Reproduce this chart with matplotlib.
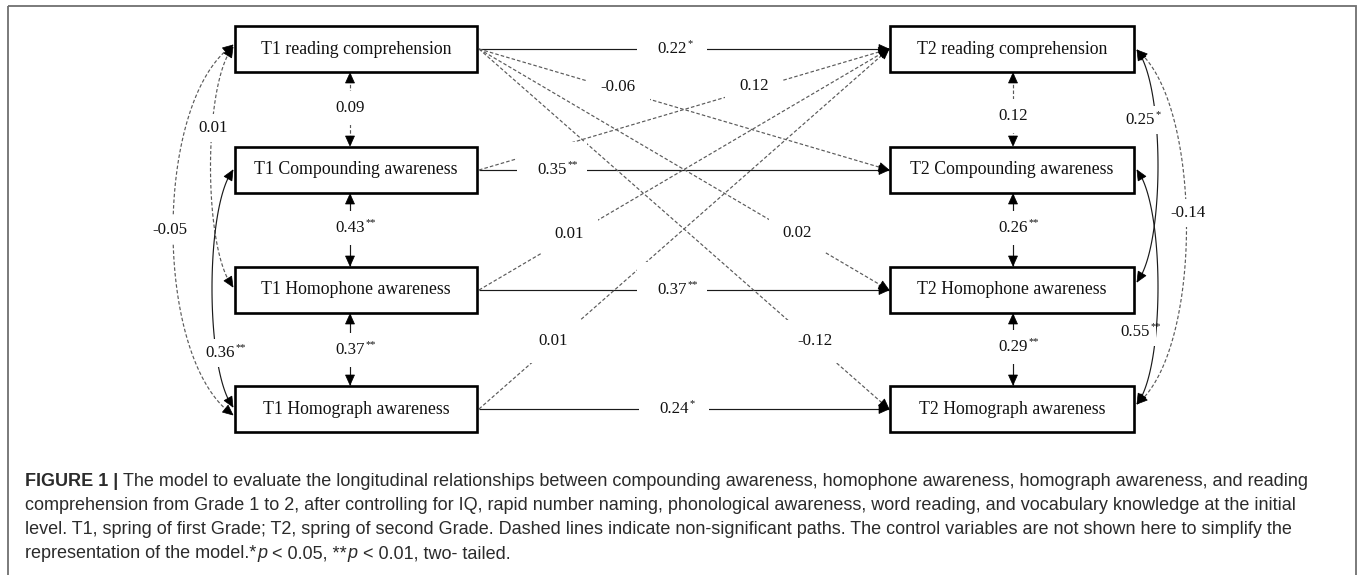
import numpy as np
import matplotlib.pyplot as plt
from matplotlib.patches import Rectangle, Polygon

# ---- model values ----
t1_names = ["T1 reading comprehension", "T1 Compounding awareness",
            "T1 Homophone awareness", "T1 Homograph awareness"]
t2_names = ["T2 reading comprehension", "T2 Compounding awareness",
            "T2 Homophone awareness", "T2 Homograph awareness"]

# autoregressive paths T1 -> T2 (same construct)
auto_coef = ["0.22*", "0.35**", "0.37**", "0.24*"]

# cross-lagged paths T1 -> T2
cross_src = [0, 0, 0, 1, 2, 3]
cross_dst = [1, 2, 3, 0, 0, 0]
cross_coef = ["-0.06", "0.02", "-0.12", "0.12", "0.01", "0.01"]

# correlations between neighbouring measures
t1_adj_coef = ["0.09", "0.43**", "0.37**"]
t2_adj_coef = ["0.12", "0.26**", "0.29**"]

# correlations between non-neighbouring measures
t1_far_pairs = [(0, 2), (0, 3), (1, 3)]
t1_far_coef = ["0.01", "-0.05", "0.36**"]
t2_far_pairs = [(0, 2), (1, 3), (0, 3)]
t2_far_coef = ["0.25*", "0.55**", "-0.14"]

caption = [
    [("FIGURE 1 |", "bold"), ("The model to evaluate the longitudinal relationships between compounding "
                              "awareness, homophone awareness, homograph awareness, and reading", "normal")],
    [("comprehension from Grade 1 to 2, after controlling for IQ, rapid number naming, phonological "
      "awareness, word reading, and vocabulary knowledge at the initial", "normal")],
    [("level. T1, spring of first Grade; T2, spring of second Grade. Dashed lines indicate non-significant "
      "paths. The control variables are not shown here to simplify the", "normal")],
    [("representation of the model.*", "normal"), ("p", "italic"), ("< 0.05, **", "normal"),
     ("p", "italic"), ("< 0.01, two- tailed.", "normal")],
]

# ---- layout (pixels) ----
W, H = 1360, 575
BOX_Y = [49, 170, 290, 409]
BOX_H = 46
L_X0, L_X1 = 235, 477
R_X0, R_X1 = 890, 1134
auto_lab_x = [672, 552, 672, 674]
cross_lab_t = [0.34, 0.775, 0.82, 0.67, 0.22, 0.18]
t1_adj_x, t2_adj_x = 350, 1013
t1_adj_lab_y = [108, 228, 350]
t2_adj_lab_y = [116, 228, 347]
t1_far_ends = [(47, 287), (45, 415), (170, 407)]
t1_far_d = [30, 80, 28]
t1_far_lab = [(213, 128), (170, 230), (220, 353)]
t2_far_ends = [(50, 282), (170, 404), (50, 404)]
t2_far_d = [28, 28, 66]
t2_far_lab = [(1140, 120), (1135, 332), (1188, 213)]

SOLID_C = "#1a1a1a"
DASH_C = "#5a5a5a"
SERIF = "Liberation Serif"

fig = plt.figure(figsize=(W / 100, H / 100), dpi=100)
ax = fig.add_axes([0, 0, 1, 1])
ax.set_xlim(0, W)
ax.set_ylim(H, 0)
ax.axis("off")


def is_sig(c):
    return c.endswith("*")


def head(p_from, p_tip, L=10, w=4.5):
    p_from, p_tip = np.asarray(p_from, float), np.asarray(p_tip, float)
    u = p_tip - p_from
    u /= np.hypot(*u)
    n = np.array([-u[1], u[0]])
    base = p_tip - u * L
    ax.add_patch(Polygon([p_tip, base + n * w, base - n * w], closed=True,
                         fc="black", ec="black", lw=0.5, zorder=3))


def back_point(pts, dist=10):
    tip = pts[-1]
    d = np.hypot(*(pts - tip).T)
    idx = np.where(d >= dist)[0]
    return pts[idx[-1]] if len(idx) else pts[0]


def path_line(pts, dashed, start_head=False, end_head=True):
    pts = np.asarray(pts, float)
    ls = (0, (3.0, 1.8)) if dashed else "-"
    ax.plot(pts[:, 0], pts[:, 1], color=DASH_C if dashed else SOLID_C,
            lw=0.85, ls=ls, zorder=2, solid_capstyle="butt")
    if end_head:
        head(back_point(pts), pts[-1])
    if start_head:
        head(back_point(pts[::-1]), pts[0])


def label(x, y, c, pad=0.6):
    base = c.rstrip("*")
    stars = c[len(base):]
    t = ax.text(x, y, base, ha="center", va="center", fontsize=12.2, family=SERIF,
                color="#111111", zorder=5,
                bbox=dict(fc="white", ec="none", boxstyle=f"square,pad={pad}"))
    if stars:
        ax.annotate(stars, xy=(1, 1), xycoords=t, xytext=(0.3, 1.2),
                    textcoords="offset points", ha="left", va="top",
                    fontsize=7.5, family=SERIF, color="#111111", zorder=6)


def arc(x, y0, y1, d, side):
    t = np.linspace(0, 1, 80)[:, None]
    k = 0.15 * (y1 - y0)
    p0 = np.array([x, y0])
    p1 = np.array([x + side * d, y0 + k])
    p2 = np.array([x + side * d, y1 - k])
    p3 = np.array([x, y1])
    return ((1 - t) ** 3) * p0 + 3 * ((1 - t) ** 2) * t * p1 + 3 * (1 - t) * t ** 2 * p2 + t ** 3 * p3


# outer frame
ax.add_patch(Rectangle((8, 6), 1348, 600, fc="none", ec="#6f6f6f", lw=1.3, zorder=1))

# boxes
for names, x0, x1 in [(t1_names, L_X0, L_X1), (t2_names, R_X0, R_X1)]:
    for name, y in zip(names, BOX_Y):
        ax.add_patch(Rectangle((x0, y - BOX_H / 2), x1 - x0, BOX_H, fc="white",
                               ec="black", lw=1.9, zorder=4))
        ax.text((x0 + x1) / 2, y, name, ha="center", va="center", fontsize=12.8,
                family=SERIF, color="#111111", zorder=6)

# autoregressive paths
for i, c in enumerate(auto_coef):
    path_line([(L_X1 + 2, BOX_Y[i]), (R_X0 - 1, BOX_Y[i])], not is_sig(c))
    label(auto_lab_x[i], BOX_Y[i], c, pad=1.2)

# cross-lagged paths
for s, d, c, t in zip(cross_src, cross_dst, cross_coef, cross_lab_t):
    p0 = np.array([L_X1 + 2, BOX_Y[s]])
    p1 = np.array([R_X0 - 1, BOX_Y[d]])
    path_line([p0, p1], not is_sig(c))
    lp = p0 + t * (p1 - p0)
    label(lp[0], lp[1] - 3, c, pad=0.8)

# neighbouring correlations
for x, coefs, laby in [(t1_adj_x, t1_adj_coef, t1_adj_lab_y), (t2_adj_x, t2_adj_coef, t2_adj_lab_y)]:
    for i, c in enumerate(coefs):
        ya = BOX_Y[i] + BOX_H / 2 + 1
        yb = BOX_Y[i + 1] - BOX_H / 2 - 1
        path_line([(x, ya), (x, yb)], not is_sig(c), start_head=True)
        label(x, laby[i], c, pad=0.55)

# non-neighbouring correlations (curved)
for pairs, coefs, ends, ds, labs, x, side in [
        (t1_far_pairs, t1_far_coef, t1_far_ends, t1_far_d, t1_far_lab, L_X0 - 2, -1),
        (t2_far_pairs, t2_far_coef, t2_far_ends, t2_far_d, t2_far_lab, R_X1 + 3, 1)]:
    for (a, b), c, (ya, yb), d, (lx, ly) in zip(pairs, coefs, ends, ds, labs):
        pts = arc(x, ya, yb, d, side)
        path_line(pts, not is_sig(c), start_head=True)
        label(lx, ly, c, pad=0.35)

# caption
CAP_C = "#2b2b2b"
cap_y = [482, 506, 530, 554]
for line, y in zip(caption, cap_y):
    prev = None
    for txt, style in line:
        kw = dict(fontsize=12.95, family="Liberation Sans", color=CAP_C,
                  fontweight="bold" if style == "bold" else "normal",
                  fontstyle="italic" if style == "italic" else "normal")
        if prev is None:
            prev = ax.text(25, y, txt, ha="left", va="center", **kw)
        else:
            gap = 0 if style == "italic" else 3.6
            if prev.get_text().endswith("*"):
                gap = 0.5
            prev = ax.annotate(txt, xy=(1, 0), xycoords=prev, xytext=(gap, 0),
                               textcoords="offset points", ha="left", va="bottom", **kw)

fig.savefig("out.png", dpi=100)
